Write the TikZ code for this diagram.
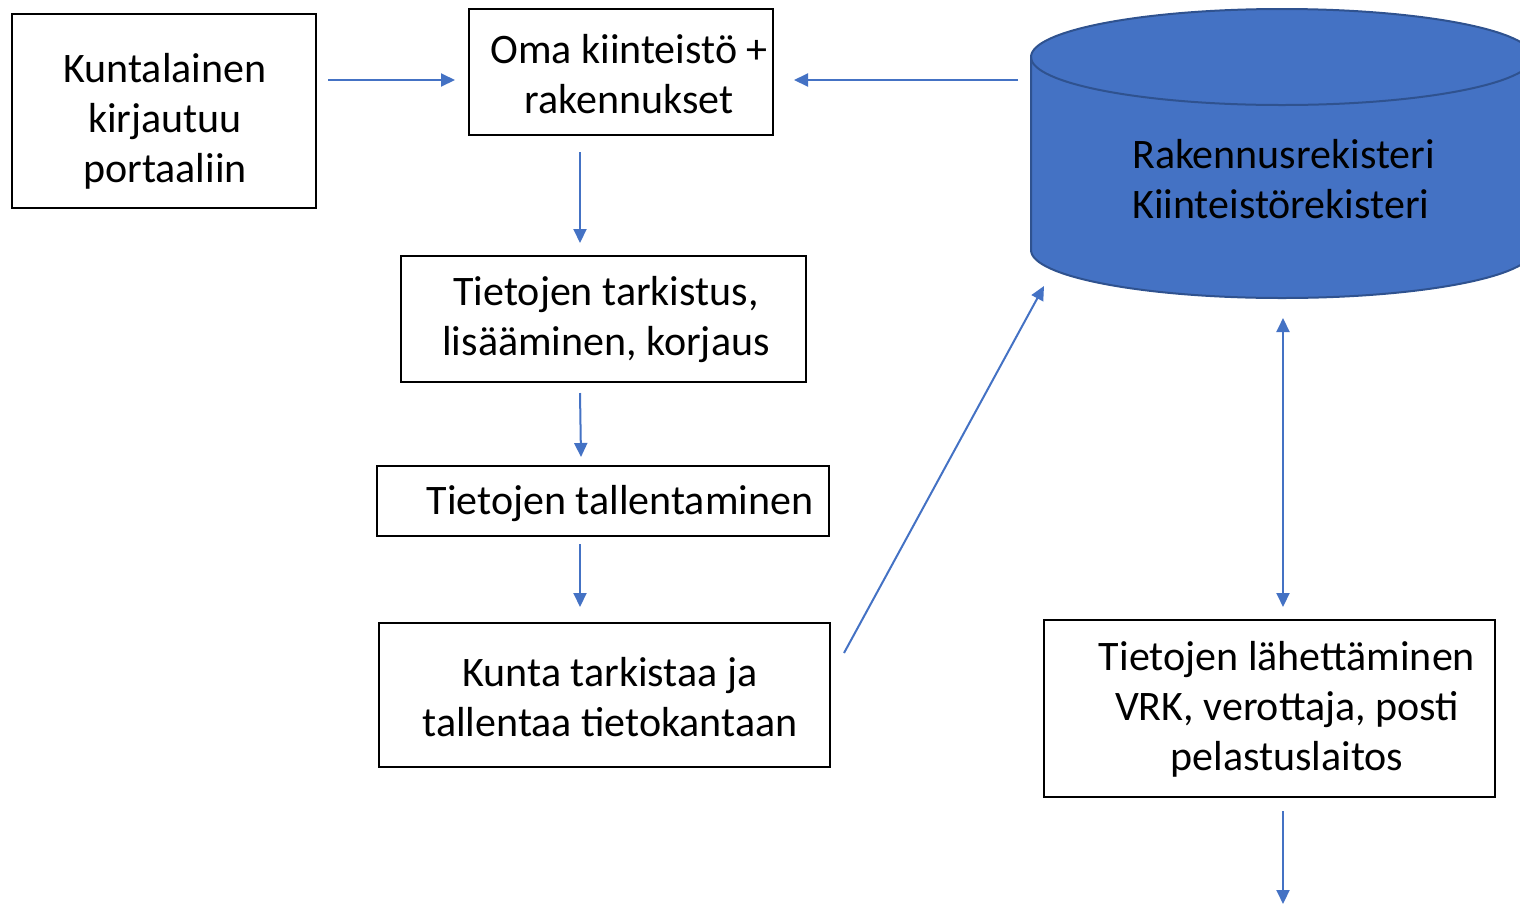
\documentclass[tikz,border=0pt]{standalone}
\usepackage{fontspec}
\setmainfont{Carlito}
\usetikzlibrary{arrows.meta,calc}
\definecolor{flowblue}{HTML}{4472C4}
\definecolor{dbedge}{HTML}{2F528F}
\begin{document}
\begin{tikzpicture}[x=1pt,y=-1pt,
  frame/.style={draw=black,line width=2pt,inner sep=0pt},
  txt/.style={inner sep=0pt,align=center,font=\fontsize{42}{50}\selectfont},
  flow/.style={draw=flowblue,line width=2pt,-{Triangle[length=14pt,width=13pt]}},
  flowboth/.style={draw=flowblue,line width=2pt,{Triangle[length=14pt,width=13pt]}-{Triangle[length=14pt,width=13pt]}}]
\useasboundingbox (0,0) rectangle (1520,903);
\clip (0,0) rectangle (1520,903);

% process boxes
\node[frame,minimum width=304pt,minimum height=194pt] (login) at (164,111) {};
\node[txt] (loginT) at (165,121) {Kuntalainen\\kirjautuu\\portaaliin};

\node[frame,minimum width=304pt,minimum height=126pt] (own) at (621,72) {};
\node[txt] (ownT) at (629,74) {Oma kiinteistö +\\rakennukset};

\node[frame,minimum width=405pt,minimum height=126pt] (check) at (603.5,319) {};
\node[txt] (checkT) at (606,320) {Tietojen tarkistus,\\lisääminen, korjaus};

\node[frame,minimum width=452pt,minimum height=70pt] (save) at (603,501) {};
\node[txt] (saveT) at (620,504) {Tietojen tallentaminen};

\node[frame,minimum width=451pt,minimum height=144pt] (muni) at (604.5,695) {};
\node[txt] (muniT) at (610,697) {Kunta tarkistaa ja\\tallentaa tietokantaan};

\node[frame,minimum width=451pt,minimum height=177pt] (send) at (1269.5,708.5) {};
\node[txt] (sendT) at (1287,709) {Tietojen lähettäminen\\VRK, verottaja, posti\\pelastuslaitos};

% register database (cylinder)
\coordinate (db) at (1282,153);
\filldraw[fill=flowblue,draw=dbedge,line width=2pt]
  (1031,57) -- (1031,250) arc[start angle=180,end angle=0,x radius=251,y radius=48]
  -- (1533,57) arc[start angle=0,end angle=-180,x radius=251,y radius=48] -- cycle;
\draw[dbedge,line width=2pt] (1031,57) arc[start angle=180,end angle=0,x radius=251,y radius=48];
\node[txt,align=left,anchor=west] (dbT) at (1132,179) {Rakennusrekisteri\\Kiinteistörekisteri};

% connectors
\draw[flow] ($(login.east)+(11,-31)$) coordinate (l1) -- ($(own.west)+(-13,8)$) coordinate (o0);
\draw[flow] ($(db)+(-264,-73)$) coordinate (dbL) -- ($(own.east)+(20,8)$) coordinate (ownR);
\draw[flow] ($(own.south)+(-41,16)$) coordinate (o1) -- ($(check.north)+(-23.5,-12)$) coordinate (c1);
\draw[flow] ($(check.south)+(-23.5,10)$) coordinate (c2) -- ($(save.north)+(-22,-8)$) coordinate (s1);
\draw[flow] ($(save.south)+(-23,7)$) coordinate (s2) -- ($(muni.north)+(-24.5,-15)$) coordinate (m1);
\draw[flow] ($(muni.east)+(13,-42)$) coordinate (m2) -- ($(db)+(-238,133)$) coordinate (dbB);
\draw[flowboth] ($(db)+(1,165)$) coordinate (dbS) -- ($(send.north)+(13.5,-12)$) coordinate (sN);
\draw[flow] ($(send.south)+(13.5,13)$) coordinate (sS) -- ($(send.south)+(13.5,106)$) coordinate (out);
\end{tikzpicture}
\end{document}
